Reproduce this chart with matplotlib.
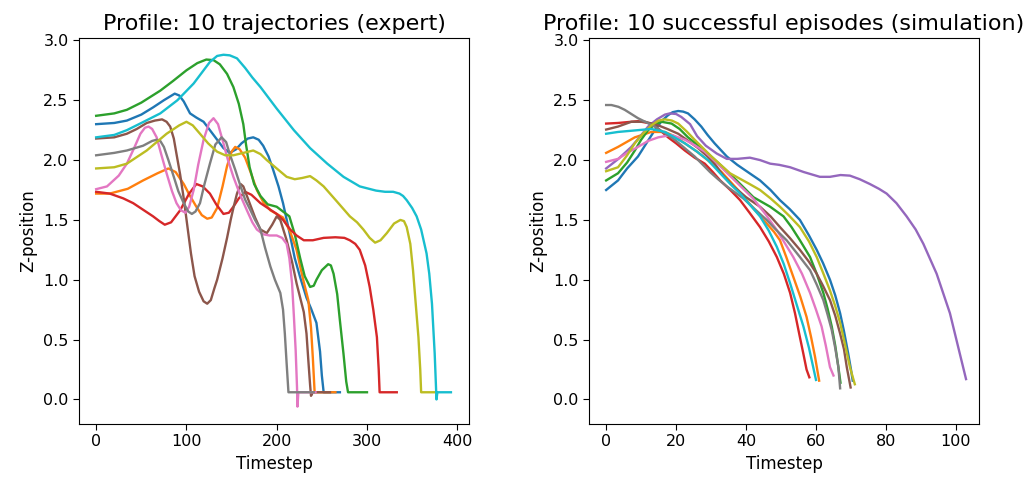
import matplotlib
matplotlib.use("Agg")
from matplotlib import pyplot as plt

# expert trajectories: timestep / z-position pairs
expert_blue_t = [0, 20, 34, 50, 63, 75, 87, 92, 97, 104, 111, 119, 126, 134, 141, 148, 155, 161, 168, 174, 180, 185, 191, 196, 202, 207, 214, 220, 226, 233, 238, 244, 248, 250, 252, 270]
expert_blue_z = [2.30, 2.31, 2.33, 2.38, 2.44, 2.50, 2.555, 2.54, 2.49, 2.39, 2.355, 2.32, 2.25, 2.17, 2.10, 2.06, 2.09, 2.14, 2.18, 2.19, 2.17, 2.12, 2.03, 1.92, 1.78, 1.64, 1.40, 1.18, 1.02, 0.85, 0.76, 0.64, 0.40, 0.20, 0.06, 0.06]

expert_orange_t = [0, 15, 35, 52, 68, 80, 88, 97, 104, 111, 117, 123, 128, 134, 140, 145, 150, 154, 159, 165, 171, 178, 185, 193, 200, 207, 215, 222, 226, 230, 235, 238, 240, 242, 265]
expert_orange_z = [1.72, 1.72, 1.76, 1.83, 1.89, 1.93, 1.90, 1.80, 1.70, 1.61, 1.54, 1.51, 1.52, 1.60, 1.78, 1.95, 2.07, 2.11, 2.09, 2.02, 1.90, 1.75, 1.65, 1.58, 1.55, 1.52, 1.40, 1.25, 1.11, 0.98, 0.83, 0.60, 0.35, 0.06, 0.06]

expert_green_t = [0, 20, 34, 50, 71, 85, 100, 112, 122, 130, 137, 145, 152, 158, 163, 166, 170, 175, 182, 190, 200, 207, 214, 220, 226, 231, 237, 241, 244, 250, 257, 260, 263, 267, 270, 274, 277, 279, 300]
expert_green_z = [2.37, 2.39, 2.42, 2.48, 2.58, 2.66, 2.75, 2.81, 2.84, 2.835, 2.80, 2.72, 2.61, 2.47, 2.30, 2.13, 1.94, 1.80, 1.70, 1.63, 1.61, 1.57, 1.53, 1.38, 1.18, 1.03, 0.94, 0.95, 1.00, 1.08, 1.13, 1.12, 1.05, 0.88, 0.66, 0.38, 0.15, 0.06, 0.06]

expert_red_t = [0, 15, 30, 41, 53, 63, 70, 76, 83, 93, 103, 111, 118, 126, 133, 141, 147, 152, 158, 165, 172, 182, 190, 200, 207, 215, 222, 230, 240, 252, 265, 275, 281, 287, 292, 298, 303, 307, 311, 313, 314, 333]
expert_red_z = [1.735, 1.72, 1.68, 1.64, 1.58, 1.53, 1.49, 1.46, 1.48, 1.58, 1.72, 1.80, 1.78, 1.72, 1.63, 1.55, 1.56, 1.61, 1.68, 1.735, 1.71, 1.64, 1.60, 1.55, 1.50, 1.42, 1.37, 1.33, 1.33, 1.35, 1.355, 1.35, 1.33, 1.30, 1.25, 1.12, 0.94, 0.75, 0.52, 0.25, 0.06, 0.06]

expert_brown_t = [0, 20, 34, 45, 56, 65, 73, 78, 82, 86, 89, 93, 97, 101, 105, 109, 114, 119, 123, 127, 131, 134, 140, 145, 149, 152, 156, 160, 163, 167, 171, 176, 182, 189, 195, 200, 204, 211, 217, 222, 226, 230, 233, 235, 237, 238, 240, 259]
expert_brown_z = [2.18, 2.19, 2.22, 2.26, 2.31, 2.33, 2.34, 2.32, 2.28, 2.18, 2.05, 1.88, 1.68, 1.45, 1.22, 1.03, 0.90, 0.82, 0.80, 0.83, 0.93, 1.00, 1.18, 1.35, 1.50, 1.60, 1.72, 1.80, 1.78, 1.70, 1.62, 1.52, 1.42, 1.39, 1.46, 1.53, 1.50, 1.33, 1.15, 0.97, 0.85, 0.73, 0.55, 0.33, 0.12, 0.03, 0.06, 0.06]

expert_pink_t = [0, 12, 25, 34, 42, 49, 54, 58, 62, 67, 72, 78, 84, 89, 94, 99, 103, 108, 113, 119, 125, 130, 135, 141, 146, 152, 160, 167, 173, 178, 185, 192, 200, 206, 211, 214, 217, 219, 221, 222.5, 223, 224, 243]
expert_pink_z = [1.757, 1.78, 1.87, 1.97, 2.10, 2.22, 2.27, 2.28, 2.26, 2.19, 2.05, 1.89, 1.74, 1.64, 1.58, 1.56, 1.61, 1.75, 1.96, 2.17, 2.31, 2.35, 2.30, 2.14, 2.00, 1.86, 1.70, 1.58, 1.48, 1.42, 1.38, 1.37, 1.37, 1.35, 1.30, 1.18, 0.97, 0.70, 0.41, 0.10, -0.06, 0.06, 0.06]

expert_gray_t = [0, 20, 34, 52, 62, 67, 71, 75, 80, 86, 91, 97, 102, 106, 110, 115, 120, 126, 132, 139, 144, 148, 154, 160, 165, 171, 176, 182, 187, 193, 198, 204, 207, 209, 211, 213, 241]
expert_gray_z = [2.04, 2.06, 2.08, 2.12, 2.16, 2.17, 2.16, 2.11, 2.00, 1.86, 1.74, 1.64, 1.57, 1.55, 1.57, 1.64, 1.80, 1.97, 2.13, 2.19, 2.15, 2.05, 1.92, 1.78, 1.67, 1.58, 1.50, 1.42, 1.27, 1.11, 1.00, 0.89, 0.75, 0.55, 0.30, 0.06, 0.06]

expert_olive_t = [0, 20, 34, 56, 78, 92, 100, 107, 115, 124, 134, 143, 152, 163, 174, 182, 189, 200, 211, 220, 228, 237, 244, 252, 266, 281, 289, 296, 303, 309, 315, 322, 330, 337, 341, 344, 348, 351, 354, 357, 359, 360, 375]
expert_olive_z = [1.93, 1.94, 1.97, 2.08, 2.22, 2.29, 2.32, 2.29, 2.22, 2.14, 2.07, 2.04, 2.04, 2.06, 2.08, 2.05, 2.00, 1.93, 1.86, 1.84, 1.85, 1.866, 1.83, 1.78, 1.66, 1.53, 1.48, 1.42, 1.35, 1.31, 1.33, 1.39, 1.47, 1.50, 1.49, 1.44, 1.30, 1.08, 0.80, 0.52, 0.25, 0.06, 0.06]

expert_cyan_t = [0, 20, 34, 50, 71, 90, 108, 118, 126, 134, 141, 148, 156, 165, 173, 182, 200, 219, 237, 256, 274, 292, 310, 320, 329, 336, 340, 344, 350, 355, 360, 366, 369, 372, 375, 377, 378, 393]
expert_cyan_z = [2.19, 2.21, 2.25, 2.31, 2.39, 2.50, 2.64, 2.74, 2.82, 2.87, 2.88, 2.875, 2.85, 2.77, 2.69, 2.61, 2.43, 2.25, 2.10, 1.97, 1.86, 1.78, 1.745, 1.735, 1.735, 1.72, 1.70, 1.665, 1.60, 1.53, 1.42, 1.22, 1.05, 0.80, 0.385, 0.0, 0.06, 0.06]

# simulated episodes
sim_blue_t = [0, 3.4, 6, 9.1, 11.5, 13.9, 16, 17.7, 19, 20.6, 22, 23.4, 25.3, 27.2, 29, 31, 34.5, 37.5, 41, 44, 47, 49.7, 52.5, 55.4, 58, 60.2, 62, 64, 65.5, 66.9, 68, 69.2, 70, 70.5]
sim_blue_z = [1.75, 1.83, 1.93, 2.03, 2.14, 2.25, 2.33, 2.375, 2.40, 2.41, 2.405, 2.39, 2.34, 2.28, 2.21, 2.14, 2.03, 1.96, 1.89, 1.83, 1.75, 1.665, 1.59, 1.50, 1.37, 1.25, 1.14, 1.0, 0.87, 0.72, 0.57, 0.385, 0.25, 0.157]

sim_orange_t = [0, 3.4, 8.2, 12.9, 16.8, 19.5, 22.5, 26, 29, 33, 38, 42, 45.9, 48, 49.7, 51.5, 53.5, 55.5, 57.3, 58.6, 59.7, 60.9]
sim_orange_z = [2.06, 2.11, 2.19, 2.235, 2.235, 2.20, 2.14, 2.07, 2.0, 1.90, 1.74, 1.60, 1.47, 1.40, 1.33, 1.19, 1.025, 0.86, 0.69, 0.52, 0.36, 0.157]

sim_green_t = [0, 3.4, 6, 8.2, 10, 12, 14, 15.8, 18.7, 21, 23.4, 26, 29.1, 33, 37.3, 42.1, 46.9, 50.7, 53, 55.4, 58.3, 60.2, 62.1, 63.3, 64.5, 65.5, 66.4, 67]
sim_green_z = [1.83, 1.89, 1.98, 2.08, 2.17, 2.25, 2.30, 2.32, 2.305, 2.26, 2.19, 2.13, 2.055, 1.95, 1.83, 1.69, 1.61, 1.53, 1.44, 1.33, 1.19, 1.05, 0.89, 0.76, 0.61, 0.45, 0.27, 0.14]

sim_red_t = [0, 3.4, 9.1, 12.9, 15, 17.7, 20, 22.5, 25.3, 28.2, 30.5, 32.6, 35.5, 38.3, 41, 44, 46.5, 48.8, 50.8, 52.6, 54, 55.4, 56.4, 57.3, 58.1]
sim_red_z = [2.305, 2.31, 2.325, 2.305, 2.26, 2.19, 2.14, 2.08, 2.02, 1.97, 1.90, 1.83, 1.75, 1.665, 1.56, 1.44, 1.32, 1.19, 1.05, 0.89, 0.72, 0.52, 0.38, 0.25, 0.185]

sim_purple_t = [0, 3.5, 7.2, 9.5, 12, 14.5, 16.8, 18.2, 20, 21.5, 24, 26, 28.5, 31.6, 34.5, 37.5, 41.1, 44, 46.9, 49.5, 52.6, 56.5, 61.1, 64, 67, 69.7, 72.5, 75.4, 78, 80.2, 83, 85.9, 88.5, 90.7, 94.5, 98.3, 101.1, 102.9]
sim_purple_z = [1.93, 2.01, 2.11, 2.19, 2.28, 2.34, 2.38, 2.39, 2.385, 2.36, 2.30, 2.20, 2.12, 2.055, 2.01, 2.01, 2.02, 2.00, 1.97, 1.96, 1.94, 1.90, 1.86, 1.86, 1.875, 1.87, 1.84, 1.80, 1.76, 1.72, 1.64, 1.53, 1.42, 1.30, 1.05, 0.72, 0.385, 0.17]

sim_brown_t = [0, 3.4, 7.2, 11.1, 14.9, 17.5, 20.6, 23.5, 26.3, 29, 31, 33.5, 36.4, 40, 44, 47, 49.7, 52.5, 55.4, 58, 60.2, 62, 64, 65.5, 66.9, 68, 68.8, 69.9]
sim_brown_z = [2.255, 2.28, 2.32, 2.32, 2.29, 2.26, 2.22, 2.16, 2.10, 2.03, 1.97, 1.87, 1.78, 1.69, 1.61, 1.53, 1.44, 1.35, 1.25, 1.15, 1.05, 0.95, 0.83, 0.70, 0.55, 0.42, 0.27, 0.10]

sim_pink_t = [0, 3.4, 6, 9.1, 12, 14.9, 18.7, 22.5, 25.5, 28.2, 31.5, 35, 38.5, 42, 45.5, 48.8, 51, 53.5, 56, 58.3, 60, 61.6, 62.8, 64, 65]
sim_pink_z = [1.985, 2.01, 2.06, 2.11, 2.16, 2.19, 2.21, 2.17, 2.12, 2.07, 1.98, 1.88, 1.78, 1.68, 1.55, 1.415, 1.31, 1.19, 1.05, 0.89, 0.75, 0.61, 0.45, 0.27, 0.2]

sim_gray_t = [0, 1.5, 3.5, 5.3, 9.1, 13.9, 19.6, 25.3, 29.7, 32, 34.5, 39.2, 42.5, 45.9, 48.5, 51.6, 53.5, 55.4, 58.3, 60.2, 62.1, 63.3, 64.5, 65.5, 66.4, 66.9]
sim_gray_z = [2.46, 2.46, 2.445, 2.42, 2.35, 2.28, 2.17, 2.03, 1.90, 1.84, 1.78, 1.68, 1.59, 1.50, 1.42, 1.33, 1.26, 1.19, 1.08, 0.96, 0.83, 0.71, 0.58, 0.43, 0.27, 0.093]

sim_olive_t = [0, 3.4, 6, 8.2, 10.5, 12.9, 15, 16.8, 18.8, 20.6, 23, 25.3, 27.7, 30.1, 35.4, 41, 44, 47, 49.7, 52.5, 55.4, 58, 60.2, 62, 64, 65.5, 66.9, 68.3, 69.7, 71.1]
sim_olive_z = [1.907, 1.94, 2.04, 2.14, 2.22, 2.29, 2.33, 2.34, 2.33, 2.305, 2.24, 2.17, 2.10, 2.03, 1.89, 1.80, 1.75, 1.68, 1.61, 1.53, 1.44, 1.32, 1.19, 1.06, 0.91, 0.78, 0.64, 0.46, 0.27, 0.127]

sim_cyan_t = [0, 3.4, 9.1, 12.9, 16.8, 19.5, 22.5, 26, 29.1, 32.6, 35.5, 38.3, 41, 44, 46.5, 48.8, 50.8, 52.6, 54.5, 56.4, 58, 59.2, 60]
sim_cyan_z = [2.22, 2.235, 2.25, 2.26, 2.235, 2.19, 2.14, 2.07, 2.0, 1.89, 1.80, 1.72, 1.63, 1.53, 1.41, 1.275, 1.13, 0.97, 0.79, 0.61, 0.43, 0.27, 0.163]

expert = [
    (expert_blue_t, expert_blue_z, 'C0'),
    (expert_orange_t, expert_orange_z, 'C1'),
    (expert_green_t, expert_green_z, 'C2'),
    (expert_red_t, expert_red_z, 'C3'),
    (expert_brown_t, expert_brown_z, 'C5'),
    (expert_pink_t, expert_pink_z, 'C6'),
    (expert_gray_t, expert_gray_z, 'C7'),
    (expert_olive_t, expert_olive_z, 'C8'),
    (expert_cyan_t, expert_cyan_z, 'C9'),
]
simulation = [
    (sim_blue_t, sim_blue_z, 'C0'),
    (sim_orange_t, sim_orange_z, 'C1'),
    (sim_green_t, sim_green_z, 'C2'),
    (sim_red_t, sim_red_z, 'C3'),
    (sim_purple_t, sim_purple_z, 'C4'),
    (sim_brown_t, sim_brown_z, 'C5'),
    (sim_pink_t, sim_pink_z, 'C6'),
    (sim_gray_t, sim_gray_z, 'C7'),
    (sim_olive_t, sim_olive_z, 'C8'),
    (sim_cyan_t, sim_cyan_z, 'C9'),
]


def main(outname='out.png'):
    plt.rcParams['font.size'] = 11.5
    plt.rcParams['axes.labelsize'] = 12
    plt.rcParams['xtick.major.size'] = 4
    plt.rcParams['ytick.major.size'] = 4
    fig = plt.figure(figsize=(10.33, 4.84), dpi=100)
    ax1 = fig.add_axes([0.0765, 0.124, 0.3775, 0.7975])
    ax2 = fig.add_axes([0.5702, 0.124, 0.3775, 0.7975])

    for t, z, c in expert:
        ax1.plot(t, z, color=c, lw=1.7, solid_joinstyle='round')
    for t, z, c in simulation:
        ax2.plot(t, z, color=c, lw=1.7, solid_joinstyle='round')

    ax1.set_title('Profile: 10 trajectories (expert)', fontsize=16)
    ax2.set_title('Profile: 10 successful episodes (simulation)', fontsize=16)
    ax1.set_xlim(-19, 413)
    ax2.set_xlim(-4.9, 106.6)
    ax1.set_xticks([0, 100, 200, 300, 400])
    ax2.set_xticks([0, 20, 40, 60, 80, 100])
    for ax in (ax1, ax2):
        ax.set_ylim(-0.205, 3.02)
        ax.set_yticks([0.0, 0.5, 1.0, 1.5, 2.0, 2.5, 3.0])
        ax.set_xlabel('Timestep')
        ax.set_ylabel('Z-position')
    fig.savefig(outname)


if __name__ == '__main__':
    main()
